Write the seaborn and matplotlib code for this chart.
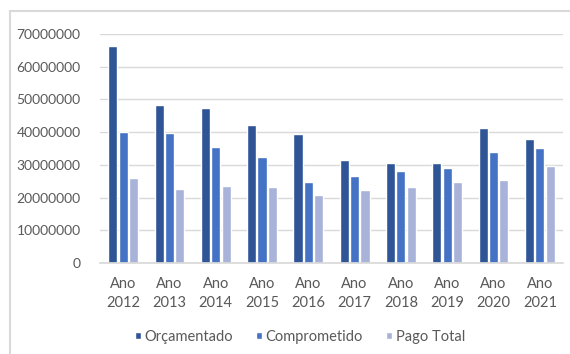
import matplotlib
matplotlib.use("Agg")
import matplotlib.pyplot as plt
import seaborn as sns
import pandas as pd
from matplotlib.patches import Rectangle
from matplotlib.ticker import FixedLocator, FuncFormatter

anos = ["Ano\n2012", "Ano\n2013", "Ano\n2014", "Ano\n2015", "Ano\n2016",
        "Ano\n2017", "Ano\n2018", "Ano\n2019", "Ano\n2020", "Ano\n2021"]
orcamentado = [66300000, 48300000, 47400000, 42200000, 39400000,
               31500000, 30600000, 30600000, 41300000, 37900000]
comprometido = [40000000, 39800000, 35500000, 32400000, 24800000,
                26600000, 28100000, 29100000, 34000000, 35200000]
pago_total = [26000000, 22600000, 23500000, 23200000, 20800000,
              22300000, 23200000, 24800000, 25400000, 29700000]
series = ["Orçamentado", "Comprometido", "Pago Total"]
colors = ["#2F5597", "#4472C4", "#A9B2D9"]

rows = []
for name, vals in zip(series, [orcamentado, comprometido, pago_total]):
    for a, v in zip(anos, vals):
        rows.append({"Ano": a, "Série": name, "Valor": v})
df = pd.DataFrame(rows)

sns.set_theme(style="white")
plt.rcParams["font.family"] = ["Lato", "DejaVu Sans"]

fig = plt.figure(figsize=(5.7, 3.54), dpi=100)
ax = fig.add_axes([0.1754, 0.257, 0.8123, 0.647])

sns.barplot(data=df, x="Ano", y="Valor", hue="Série", hue_order=series,
            palette=colors, width=0.67, gap=0.12, saturation=1,
            ax=ax, legend=True, errorbar=None)

ax.set_ylim(0, 70000000)
ax.yaxis.set_major_locator(FixedLocator([i * 10000000 for i in range(8)]))
ax.yaxis.set_major_formatter(FuncFormatter(lambda v, p: f"{int(v)}"))
ax.grid(axis="y", color="#D9D9D9", linewidth=1)
ax.set_axisbelow(True)
for s in ["top", "right", "left"]:
    ax.spines[s].set_visible(False)
ax.spines["bottom"].set_color("#D9D9D9")
ax.set_xlabel("")
ax.set_ylabel("")
ax.tick_params(axis="y", length=0, labelsize=10, colors="#595959", pad=14)
ax.tick_params(axis="x", length=0, labelsize=10.5, colors="#595959", pad=10)
for lab in ax.get_xticklabels():
    lab.set_linespacing(1.5)
ax.set_xlim(-0.5, 9.5)

leg = ax.legend(loc="upper center", bbox_to_anchor=(0.432, -0.235), ncol=3,
                frameon=False, fontsize=10.5, handlelength=0.4, handleheight=0.4,
                handletextpad=0.25, columnspacing=1.6)
for t in leg.get_texts():
    t.set_color("#595959")

fig.patches.append(Rectangle((10 / 570, -0.05), 1.1, 1 - 11 / 354 + 0.05,
                             transform=fig.transFigure, fill=False,
                             edgecolor="#D9D9D9", linewidth=1.5))

fig.savefig("out.png", dpi=100, facecolor="white")
